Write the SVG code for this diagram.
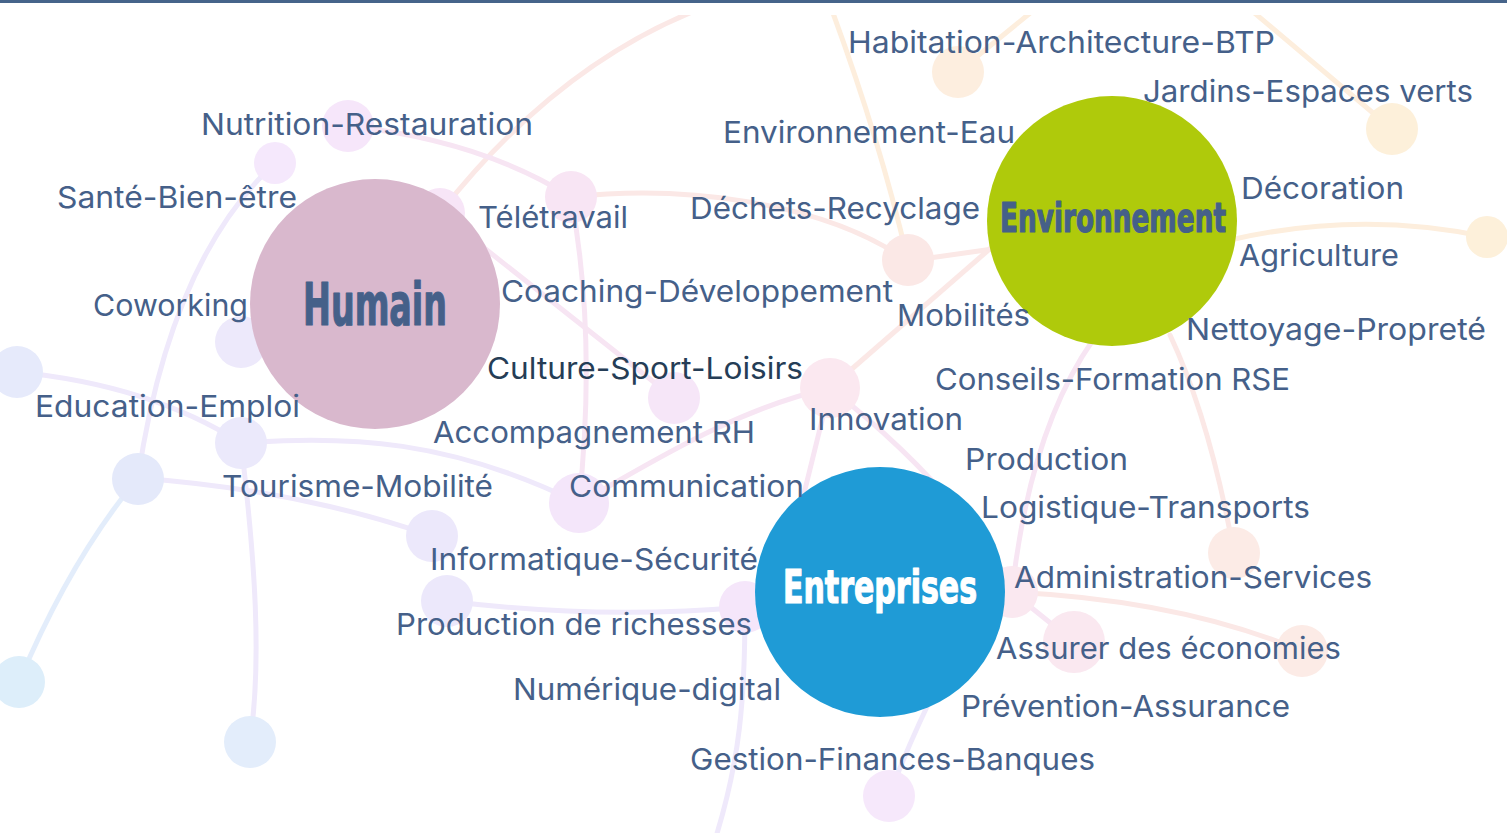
<svg xmlns="http://www.w3.org/2000/svg" width="1507" height="833" viewBox="0 0 1507 833">
<style>
.lbl{font-family:Inter,"DejaVu Sans",sans-serif;font-size:30px;fill:#456089;}
.dark{fill:#253d56;}
.hub{font-family:"Liberation Sans Narrow","DejaVu Sans Condensed","Liberation Sans",sans-serif;font-weight:bold;stroke-width:1.2;stroke-linejoin:round;}
.c path{fill:none;stroke-width:5;stroke-linecap:round;}
.lil{stroke:#efe9fb;} .pk{stroke:#f7e5f3;} .or{stroke:#fdeedd;} .bl{stroke:#e3edfb;} .pe{stroke:#fbe8e6;}
</style>
<defs><clipPath id="clip"><rect x="0" y="15" width="1507" height="818"/></clipPath></defs>
<rect width="1507" height="833" fill="#ffffff"/>
<rect x="0" y="0" width="1507" height="3" fill="#46648a"/>
<g clip-path="url(#clip)">
<g id="connectors" class="c">
<path class="lil" d="M275,163 Q170,260 138,478"/>
<path class="bl" d="M138,478 Q70,560 19,682"/>
<path class="lil" d="M17,372 Q150,385 241,443"/>
<path class="lil" d="M241,443 C350,435 450,440 579,503"/>
<path class="lil" d="M138,478 Q300,490 432,536"/>
<path class="lil" d="M241,443 C255,560 262,660 250,742"/>
<path class="lil" d="M447,601 Q600,620 745,607"/>
<path class="lil" d="M745,607 C745,700 740,760 715,840"/>
<path class="lil" d="M940,680 Q910,740 889,796"/>
<path class="pk" d="M579,503 C640,470 730,410 830,388"/>
<path class="pk" d="M579,503 C590,400 590,300 571,197"/>
<path class="pe" d="M440,213 Q560,60 710,5"/>
<path class="pk" d="M348,126 Q480,140 571,197"/>
<path class="pe" d="M571,197 C680,185 820,200 908,261"/>
<path class="pk" d="M440,213 L674,398"/>
<path class="pe" d="M830,388 L1000,240"/>
<path class="pe" d="M908,261 L1000,248"/>
<path class="pk" d="M830,388 L795,530"/>
<path class="pk" d="M830,388 Q960,490 1012,592"/>
<path class="or" d="M908,261 Q880,140 830,5"/>
<path class="or" d="M958,72 L1040,5"/>
<path class="or" d="M1392,129 L1245,5"/>
<path class="or" d="M1230,240 Q1360,210 1487,237"/>
<path class="pk" d="M1093,340 Q1030,430 1012,592"/>
<path class="pe" d="M1170,335 Q1210,420 1234,553"/>
<path class="pk" d="M1012,592 L1074,642"/>
<path class="pe" d="M1012,592 Q1180,600 1302,651"/>
</g>
<g id="dots">
<circle cx="348" cy="126" r="26" fill="#f6e6fa"/>
<circle cx="275" cy="163" r="21" fill="#f5e8fc"/>
<circle cx="440" cy="213" r="25" fill="#f7e5f7"/>
<circle cx="571" cy="197" r="26" fill="#f8e5f4"/>
<circle cx="958" cy="72" r="26" fill="#fdeedf"/>
<circle cx="1392" cy="129" r="26" fill="#fdf0da"/>
<circle cx="1487" cy="237" r="21" fill="#fdf0da"/>
<circle cx="908" cy="260" r="26" fill="#fbe8e6"/>
<circle cx="241" cy="342" r="26" fill="#ede9fb"/>
<circle cx="17" cy="372" r="26" fill="#e6eafb"/>
<circle cx="241" cy="443" r="26" fill="#ebe9fb"/>
<circle cx="138" cy="479" r="26" fill="#e4e9fa"/>
<circle cx="432" cy="536" r="26" fill="#ece8fb"/>
<circle cx="674" cy="398" r="26" fill="#f6e6f8"/>
<circle cx="830" cy="388" r="30" fill="#fbe8f0"/>
<circle cx="579" cy="503" r="30" fill="#f4e6fa"/>
<circle cx="1234" cy="553" r="26" fill="#fcebe6"/>
<circle cx="19" cy="682" r="26" fill="#ddeefa"/>
<circle cx="250" cy="742" r="26" fill="#e3edfb"/>
<circle cx="447" cy="601" r="26" fill="#ece8fb"/>
<circle cx="745" cy="607" r="26" fill="#f5e6fa"/>
<circle cx="889" cy="796" r="26" fill="#f6e8fb"/>
<circle cx="1012" cy="592" r="26" fill="#fae8f0"/>
<circle cx="1074" cy="642" r="31" fill="#fae8f0"/>
<circle cx="1302" cy="651" r="26" fill="#fcebe6"/>
</g>
</g>
<g id="humain">
<circle cx="375" cy="304" r="125" fill="#d9b8cd"/>
<text class="hub" x="303" y="325" font-size="59" fill="#456089" stroke="#456089" textLength="144" lengthAdjust="spacingAndGlyphs">Humain</text>
</g>
<g id="environnement">
<circle cx="1112" cy="221" r="125" fill="#afca0b"/>
<text class="hub" x="1000" y="232" font-size="41" fill="#456089" stroke="#456089" textLength="226" lengthAdjust="spacingAndGlyphs">Environnement</text>
</g>
<g id="entreprises">
<circle cx="880" cy="592" r="125" fill="#1f9bd6"/>
<text class="hub" x="783" y="603" font-size="46" fill="#ffffff" stroke="#ffffff" textLength="194" lengthAdjust="spacingAndGlyphs">Entreprises</text>
</g>
<g id="labels">
<text class="lbl" x="848" y="53" textLength="427" lengthAdjust="spacingAndGlyphs">Habitation-Architecture-BTP</text>
<text class="lbl" x="1143" y="102" textLength="330" lengthAdjust="spacingAndGlyphs">Jardins-Espaces verts</text>
<text class="lbl" x="201" y="135" textLength="332" lengthAdjust="spacingAndGlyphs">Nutrition-Restauration</text>
<text class="lbl" x="723" y="143" textLength="292" lengthAdjust="spacingAndGlyphs">Environnement-Eau</text>
<text class="lbl" x="57" y="208" textLength="240" lengthAdjust="spacingAndGlyphs">Santé-Bien-être</text>
<text class="lbl" x="478" y="228" textLength="150" lengthAdjust="spacingAndGlyphs">Télétravail</text>
<text class="lbl" x="690" y="219" textLength="290" lengthAdjust="spacingAndGlyphs">Déchets-Recyclage</text>
<text class="lbl" x="1241" y="199" textLength="163" lengthAdjust="spacingAndGlyphs">Décoration</text>
<text class="lbl" x="1239" y="266" textLength="160" lengthAdjust="spacingAndGlyphs">Agriculture</text>
<text class="lbl" x="93" y="316" textLength="155" lengthAdjust="spacingAndGlyphs">Coworking</text>
<text class="lbl" x="501" y="302" textLength="392" lengthAdjust="spacingAndGlyphs">Coaching-Développement</text>
<text class="lbl" x="897" y="326" textLength="133" lengthAdjust="spacingAndGlyphs">Mobilités</text>
<text class="lbl" x="1186" y="340" textLength="300" lengthAdjust="spacingAndGlyphs">Nettoyage-Propreté</text>
<text class="lbl dark" x="487" y="379" textLength="316" lengthAdjust="spacingAndGlyphs">Culture-Sport-Loisirs</text>
<text class="lbl" x="935" y="390" textLength="355" lengthAdjust="spacingAndGlyphs">Conseils-Formation RSE</text>
<text class="lbl" x="35" y="417" textLength="265" lengthAdjust="spacingAndGlyphs">Education-Emploi</text>
<text class="lbl" x="809" y="430" textLength="154" lengthAdjust="spacingAndGlyphs">Innovation</text>
<text class="lbl" x="433" y="443" textLength="322" lengthAdjust="spacingAndGlyphs">Accompagnement RH</text>
<text class="lbl" x="965" y="470" textLength="163" lengthAdjust="spacingAndGlyphs">Production</text>
<text class="lbl" x="222" y="497" textLength="271" lengthAdjust="spacingAndGlyphs">Tourisme-Mobilité</text>
<text class="lbl" x="569" y="497" textLength="235" lengthAdjust="spacingAndGlyphs">Communication</text>
<text class="lbl" x="981" y="518" textLength="329" lengthAdjust="spacingAndGlyphs">Logistique-Transports</text>
<text class="lbl" x="430" y="570" textLength="328" lengthAdjust="spacingAndGlyphs">Informatique-Sécurité</text>
<text class="lbl" x="1014" y="588" textLength="358" lengthAdjust="spacingAndGlyphs">Administration-Services</text>
<text class="lbl" x="396" y="635" textLength="356" lengthAdjust="spacingAndGlyphs">Production de richesses</text>
<text class="lbl" x="996" y="659" textLength="345" lengthAdjust="spacingAndGlyphs">Assurer des économies</text>
<text class="lbl" x="513" y="700" textLength="268" lengthAdjust="spacingAndGlyphs">Numérique-digital</text>
<text class="lbl" x="961" y="717" textLength="329" lengthAdjust="spacingAndGlyphs">Prévention-Assurance</text>
<text class="lbl" x="690" y="770" textLength="405" lengthAdjust="spacingAndGlyphs">Gestion-Finances-Banques</text>
</g>
</svg>
